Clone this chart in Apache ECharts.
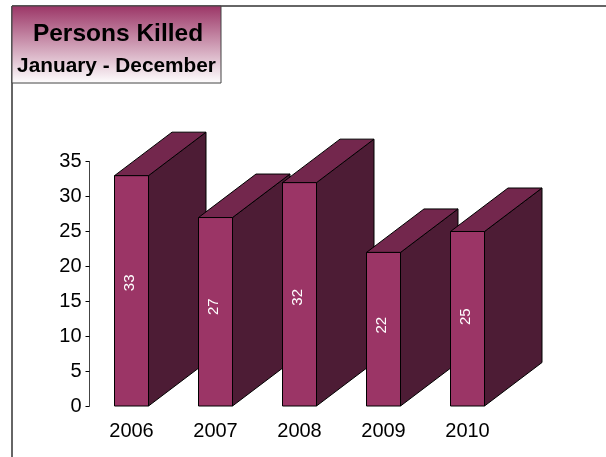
<!DOCTYPE html>
<html>
<head>
<meta charset="utf-8">
<style>html,body{margin:0;padding:0;background:#fff}#c{width:606px;height:457px}</style>
<script src="https://cdn.jsdelivr.net/npm/echarts@6/dist/echarts.min.js"></script>
</head>
<body>
<div id="c"></div>
<script>
const categories = ['2006', '2007', '2008', '2009', '2010'];
const killed = [33, 27, 32, 22, 25];
const yTicks = { min: 0, max: 35, interval: 5 };
const titleMain = 'Persons Killed';
const titleSub = 'January - December';

const FONT = '"Liberation Sans", Arial, sans-serif';
const labelNudgeY = [-8, -5, 3, -4, -2];
const chart = echarts.init(document.getElementById('c'), null, { renderer: 'canvas' });

function renderItem(params, api) {
  const idx = api.value(0);
  const val = api.value(1);
  const top = api.coord([idx, val]);
  const base = api.coord([idx, 0]);
  const w = api.size([1, 0])[0] * 34 / 84;
  const dx = 57.5, dy = 43.5;
  const l = top[0] - w / 2, r = top[0] + w / 2, t = top[1], b = base[1];
  const line = { stroke: '#000', lineWidth: 1 };
  return {
    type: 'group',
    children: [
      { type: 'polygon', shape: { points: [[r, t], [r + dx, t - dy], [r + dx, b - dy], [r, b]] },
        style: Object.assign({ fill: '#4d1c35' }, line) },
      { type: 'polygon', shape: { points: [[l, t], [l + dx, t - dy], [r + dx, t - dy], [r, t]] },
        style: Object.assign({ fill: '#73274d' }, line) },
      { type: 'rect', shape: { x: l, y: t, width: w, height: b - t },
        style: Object.assign({ fill: '#9b3566' }, line) },
      { type: 'text', x: top[0] - 1.5, y: (t + b) / 2 + labelNudgeY[idx], rotation: Math.PI / 2,
        style: { text: String(val), fill: '#fff', font: '15px ' + FONT, align: 'center', verticalAlign: 'middle' } }
    ]
  };
}

chart.setOption({
  animation: false,
  backgroundColor: '#fff',
  grid: { left: 89.5, right: 96.5, top: 161.7, bottom: 51 },
  title: [
    { text: titleMain, left: 113, top: 17, textAlign: 'center',
      textStyle: { fontFamily: FONT, fontWeight: 'bold', fontSize: 24.5, color: '#000' } },
    { text: titleSub, left: 111.5, top: 51, textAlign: 'center',
      textStyle: { fontFamily: FONT, fontWeight: 'bold', fontSize: 20.8, color: '#000' } }
  ],
  xAxis: {
    type: 'category', data: categories,
    axisLine: { show: false }, axisTick: { show: false },
    axisLabel: { fontFamily: FONT, fontSize: 20, color: '#000', margin: 15 }
  },
  yAxis: {
    type: 'value', min: yTicks.min, max: yTicks.max, interval: yTicks.interval,
    splitLine: { show: false },
    axisLine: { show: true, lineStyle: { color: '#444', width: 1 } },
    axisTick: { show: true, length: 4, lineStyle: { color: '#000' } },
    axisLabel: { fontFamily: FONT, fontSize: 20, color: '#000', margin: 8, padding: [0, 0, -3, 0] }
  },
  graphic: [
    { type: 'line', silent: true, z: -1, shape: { x1: 12, y1: 6, x2: 606, y2: 6 }, style: { stroke: '#333', lineWidth: 1.5 } },
    { type: 'line', silent: true, z: -1, shape: { x1: 12, y1: 6, x2: 12, y2: 457 }, style: { stroke: '#333', lineWidth: 1.5 } },
    { type: 'rect', silent: true, z: -1, shape: { x: 12, y: 6, width: 209, height: 77 },
      style: { stroke: '#444', lineWidth: 1,
        fill: { type: 'linear', x: 0, y: 0, x2: 0, y2: 1,
          colorStops: [{ offset: 0, color: '#9b3566' }, { offset: 1, color: '#ffffff' }] } } }
  ],
  series: [{
    type: 'custom',
    renderItem: renderItem,
    encode: { x: 0, y: 1 },
    data: killed.map((v, i) => [i, v]),
    clip: false
  }]
});
</script>
</body>
</html>
